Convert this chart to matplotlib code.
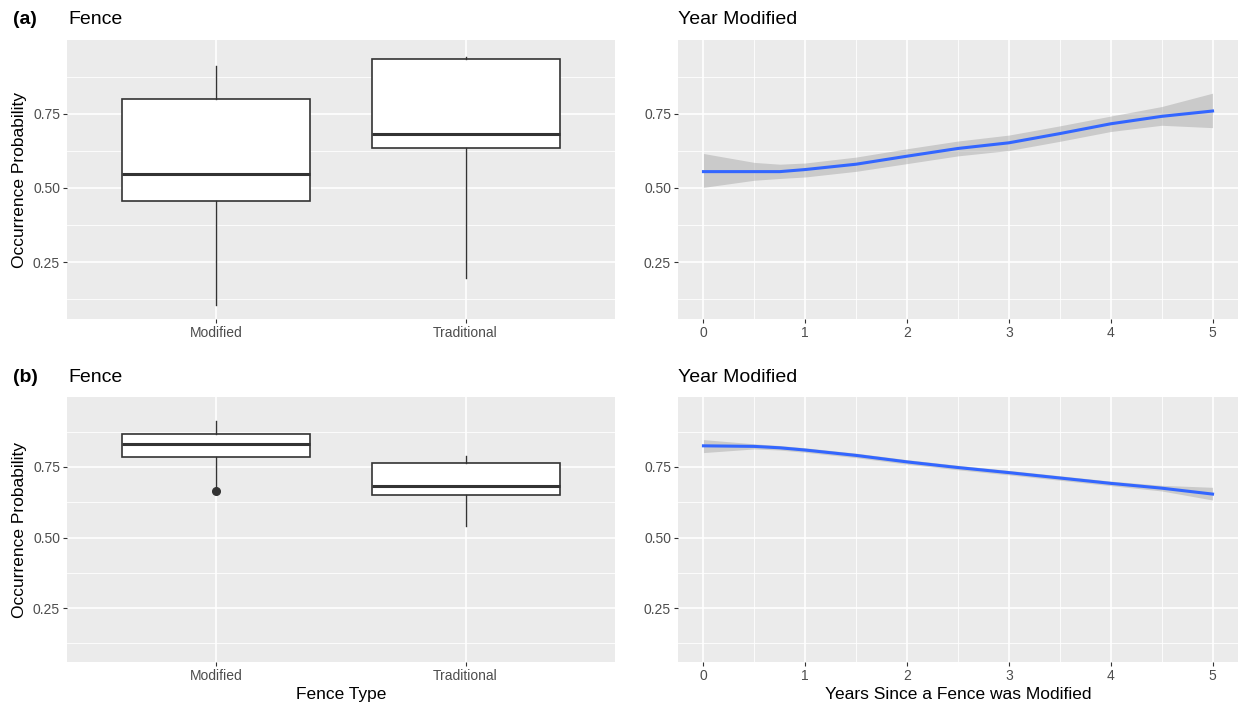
import matplotlib
matplotlib.use("Agg")
import matplotlib.pyplot as plt
import numpy as np

plt.rcParams['font.family'] = ['Liberation Sans', 'DejaVu Sans']

W, H = 1238, 709

# box summaries (a) and (b): whisker low, Q1, median, Q3, whisker high
fence_types = ['Modified', 'Traditional']
box_a = [[0.107, 0.457, 0.547, 0.798, 0.910],
         [0.196, 0.635, 0.683, 0.933, 0.940]]
box_b = [[0.672, 0.785, 0.831, 0.867, 0.914],
         [0.541, 0.649, 0.681, 0.763, 0.790]]
fliers_a = [[], []]
fliers_b = [[0.664], []]

# smoothed trend vs years since modification
years = [0, 0.5, 0.75, 1, 1.5, 2, 2.5, 3, 3.5, 4, 4.5, 5]
fit_a = [0.555, 0.555, 0.555, 0.562, 0.580, 0.607, 0.633, 0.652, 0.683, 0.716, 0.741, 0.759]
lo_a = [0.502, 0.526, 0.532, 0.537, 0.556, 0.582, 0.608, 0.626, 0.657, 0.690, 0.711, 0.703]
hi_a = [0.616, 0.586, 0.580, 0.584, 0.604, 0.632, 0.658, 0.678, 0.709, 0.742, 0.774, 0.819]

fit_b = [0.825, 0.823, 0.818, 0.810, 0.791, 0.768, 0.748, 0.730, 0.711, 0.692, 0.675, 0.654]
lo_b = [0.801, 0.814, 0.810, 0.802, 0.783, 0.760, 0.740, 0.722, 0.703, 0.684, 0.665, 0.633]
hi_b = [0.847, 0.832, 0.826, 0.818, 0.799, 0.776, 0.756, 0.738, 0.719, 0.700, 0.685, 0.678]

y_ticks = [0.25, 0.50, 0.75]
y_minor = [0.125, 0.375, 0.625, 0.875]
ylim = (0.059, 0.998)

BG = '#EBEBEB'
TICK = '#4D4D4D'


def px_axes(fig, x0, y0, x1, y1):
    return fig.add_axes([x0 / W, 1 - y1 / H, (x1 - x0) / W, (y1 - y0) / H])


def gg_style(ax, xmajor, xminor):
    ax.set_facecolor(BG)
    for s in ax.spines.values():
        s.set_visible(False)
    ax.set_ylim(*ylim)
    ax.set_yticks(y_ticks)
    ax.set_yticklabels(['%.2f' % v for v in y_ticks])
    for v in y_minor:
        ax.axhline(v, color='white', lw=0.6, zorder=0)
    for v in y_ticks:
        ax.axhline(v, color='white', lw=1.2, zorder=0)
    for v in xminor:
        ax.axvline(v, color='white', lw=0.6, zorder=0)
    for v in xmajor:
        ax.axvline(v, color='white', lw=1.2, zorder=0)
    ax.tick_params(colors='#333333', labelcolor=TICK, labelsize=10, length=3, width=0.8, pad=2)


def box_panel(ax, boxes, fliers):
    stats = []
    for b, f in zip(boxes, fliers):
        stats.append(dict(whislo=b[0], q1=b[1], med=b[2], q3=b[3], whishi=b[4], fliers=f))
    ax.bxp(stats, positions=[1, 2], widths=0.755, patch_artist=True, showcaps=False,
           boxprops=dict(facecolor='white', edgecolor='#333333', linewidth=1.2),
           medianprops=dict(color='#333333', linewidth=2.2),
           whiskerprops=dict(color='#333333', linewidth=1.0),
           flierprops=dict(marker='o', markerfacecolor='#333333', markeredgecolor='#333333',
                           markersize=5.5))
    ax.set_xlim(0.4, 2.6)
    gg_style(ax, [1, 2], [])
    ax.set_xticks([1, 2])
    ax.set_xticklabels(fence_types)


def trend_panel(ax, fit, lo, hi):
    ax.fill_between(years, lo, hi, color='#999999', alpha=0.4, lw=0, zorder=2)
    ax.plot(years, fit, color='#3366FF', lw=2.2, zorder=3)
    ax.set_xlim(-0.25, 5.25)
    gg_style(ax, range(6), [0.5, 1.5, 2.5, 3.5, 4.5])
    ax.set_xticks(range(6))


fig = plt.figure(figsize=(W / 100, H / 100), dpi=100)

ax1 = px_axes(fig, 67, 40, 615, 319)
ax2 = px_axes(fig, 678, 40, 1238, 319)
ax3 = px_axes(fig, 67, 397, 615, 662)
ax4 = px_axes(fig, 678, 397, 1238, 662)

box_panel(ax1, box_a, fliers_a)
trend_panel(ax2, fit_a, lo_a, hi_a)
box_panel(ax3, box_b, fliers_b)
trend_panel(ax4, fit_b, lo_b, hi_b)

for ax in (ax1, ax3):
    ax.set_ylabel('Occurrence Probability', fontsize=12.5, color='black', labelpad=4)
ax3.set_xlabel('Fence Type', fontsize=12.5, labelpad=3)
ax4.set_xlabel('Years Since a Fence was Modified', fontsize=12.5, labelpad=3)

# panel titles and tags
for ytop, tag in ((20, '(a)'), (378, '(b)')):
    fig.text(13 / W, 1 - ytop / H, tag, fontsize=14, fontweight='bold', va='center', ha='left')
    fig.text(68 / W, 1 - ytop / H, 'Fence', fontsize=14, va='center', ha='left')
    fig.text(678 / W, 1 - ytop / H, 'Year Modified', fontsize=14, va='center', ha='left')

fig.savefig('out.png', dpi=100, facecolor='white')
